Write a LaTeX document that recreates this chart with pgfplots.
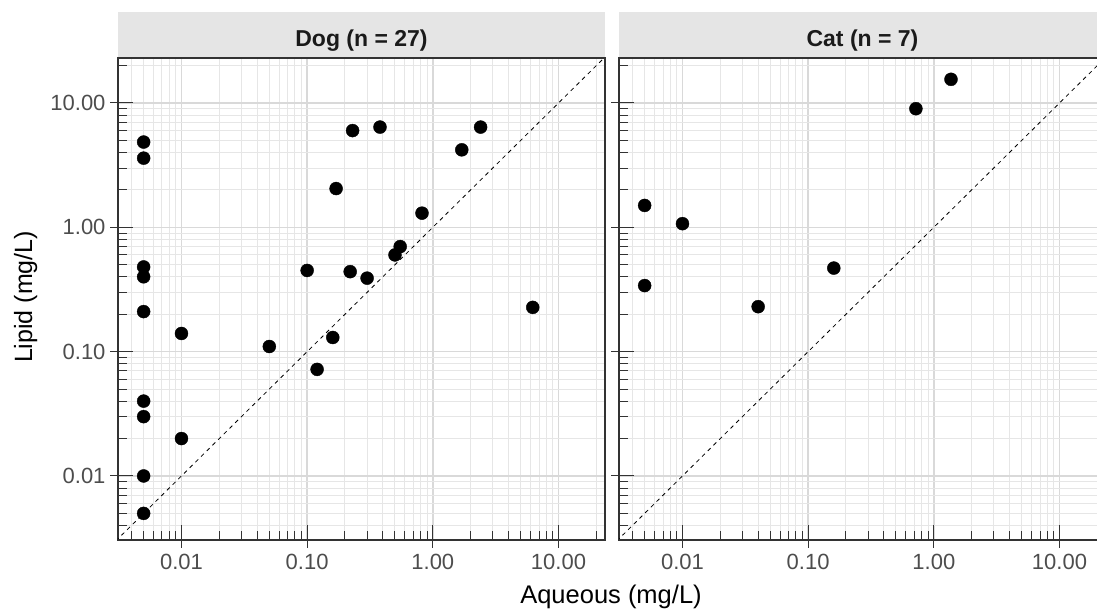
\documentclass[border=0pt]{standalone}
\usepackage{fontspec}
\setmainfont{Liberation Sans}
\usepackage{pgfplots}
\pgfplotsset{compat=1.18}
\definecolor{StripGray}{HTML}{E5E5E5}
\definecolor{GridMajor}{HTML}{D9D9D9}
\definecolor{GridMinor}{HTML}{E6E6E6}
\definecolor{Frame}{HTML}{333333}
\definecolor{TickText}{HTML}{4D4D4D}
\definecolor{StripText}{HTML}{1A1A1A}

\pgfplotstableread{
x y
0.005 4.85
0.005 3.6
0.005 0.48
0.005 0.40
0.005 0.21
0.005 0.04
0.005 0.03
0.005 0.01
0.005 0.005
0.01 0.14
0.01 0.02
0.05 0.11
0.10 0.45
0.12 0.072
0.16 0.13
0.17 2.05
0.22 0.44
0.23 6.0
0.30 0.39
0.38 6.4
0.50 0.60
0.55 0.70
0.82 1.3
1.7 4.2
2.4 6.4
6.24 0.227
}\dogdata

\pgfplotstableread{
x y
0.005 1.5
0.005 0.34
0.01 1.07
0.04 0.23
0.16 0.47
0.72 9.0
1.37 15.5
}\catdata

\pgfplotsset{
  every axis/.append style={
    scale only axis, width=487bp, height=482bp,
    xtick pos=left, ytick pos=left,
    tick align=inside, major tick length=15bp, minor tick length=9bp,
    tick style={Frame, line width=1bp},
    major grid style={GridMajor, line width=1.4bp},
    minor grid style={GridMinor, line width=1bp},
    axis line style={Frame, line width=1.4bp},
    ticklabel style={font=\fontsize{22bp}{26bp}\selectfont, text=TickText},
    xticklabel style={yshift=-11bp},
    yticklabel style={xshift=-9bp},
  },
}

\begin{document}
\begin{tikzpicture}
\path[use as bounding box] (0,0) rectangle (1097bp,610bp);

\begin{axis}[name=dog, at={(118bp,70bp)}, anchor=south west,
  xmode=log, ymode=log, grid=both,
  xmin=0.003126, xmax=23.44, ymin=0.003055, ymax=23.01,
  xtick={0.01,0.1,1,10}, ytick={0.01,0.1,1,10},
  xticklabels={0.01,0.10,1.00,10.00}, yticklabels={0.01,0.10,1.00,10.00},
  minor xtick={0.004,0.005,0.006,0.007,0.008,0.009,0.02,0.03,0.04,0.05,0.06,0.07,0.08,0.09,0.2,0.3,0.4,0.5,0.6,0.7,0.8,0.9,2,3,4,5,6,7,8,9,20},
  minor ytick={0.004,0.005,0.006,0.007,0.008,0.009,0.02,0.03,0.04,0.05,0.06,0.07,0.08,0.09,0.2,0.3,0.4,0.5,0.6,0.7,0.8,0.9,2,3,4,5,6,7,8,9,20},
  extra x ticks={0.01,0.1,1,10}, extra y ticks={0.01,0.1,1,10},
  extra x tick labels={}, extra y tick labels={},
  extra tick style={tick align=outside, major tick length=8bp, grid=none}]
\addplot[black, line width=0.8bp, dash pattern=on 4bp off 4bp] coordinates {(0.003,0.003) (24,24)};
\addplot[only marks, mark=*, mark size=6.5bp, black] table[x=x,y=y] {\dogdata};
\end{axis}

\begin{axis}[name=cat, at={(619bp,70bp)}, anchor=south west,
  xmode=log, ymode=log, grid=both,
  xmin=0.003126, xmax=23.44, ymin=0.003055, ymax=23.01,
  xtick={0.01,0.1,1,10}, ytick={0.01,0.1,1,10},
  xticklabels={0.01,0.10,1.00,10.00}, yticklabels={},
  minor xtick={0.004,0.005,0.006,0.007,0.008,0.009,0.02,0.03,0.04,0.05,0.06,0.07,0.08,0.09,0.2,0.3,0.4,0.5,0.6,0.7,0.8,0.9,2,3,4,5,6,7,8,9,20},
  minor ytick={0.004,0.005,0.006,0.007,0.008,0.009,0.02,0.03,0.04,0.05,0.06,0.07,0.08,0.09,0.2,0.3,0.4,0.5,0.6,0.7,0.8,0.9,2,3,4,5,6,7,8,9,20},
  extra x ticks={0.01,0.1,1,10}, extra y ticks={0.01,0.1,1,10},
  extra x tick labels={}, extra y tick labels={},
  extra tick style={tick align=outside, major tick length=8bp, grid=none}]
\addplot[black, line width=0.8bp, dash pattern=on 4bp off 4bp] coordinates {(0.003,0.003) (24,24)};
\addplot[only marks, mark=*, mark size=6.5bp, black] table[x=x,y=y] {\catdata};
\end{axis}

% facet strips
\fill[StripGray] (118bp,552.7bp) rectangle (605bp,598bp);
\fill[StripGray] (619bp,552.7bp) rectangle (1106bp,598bp);
\node[anchor=base, text=StripText, font=\fontsize{23bp}{27bp}\selectfont\bfseries]
  at (361.5bp,563bp) {Dog (n = 27)};
\node[anchor=base, text=StripText, font=\fontsize{23bp}{27bp}\selectfont\bfseries]
  at (862.5bp,563bp) {Cat (n = 7)};

% axis titles
\node[anchor=base, font=\fontsize{25.5bp}{30bp}\selectfont] at (611bp,7bp) {Aqueous (mg/L)};
\node[anchor=base, rotate=90, font=\fontsize{25bp}{30bp}\selectfont] at (32bp,313bp) {Lipid (mg/L)};
\end{tikzpicture}
\end{document}
